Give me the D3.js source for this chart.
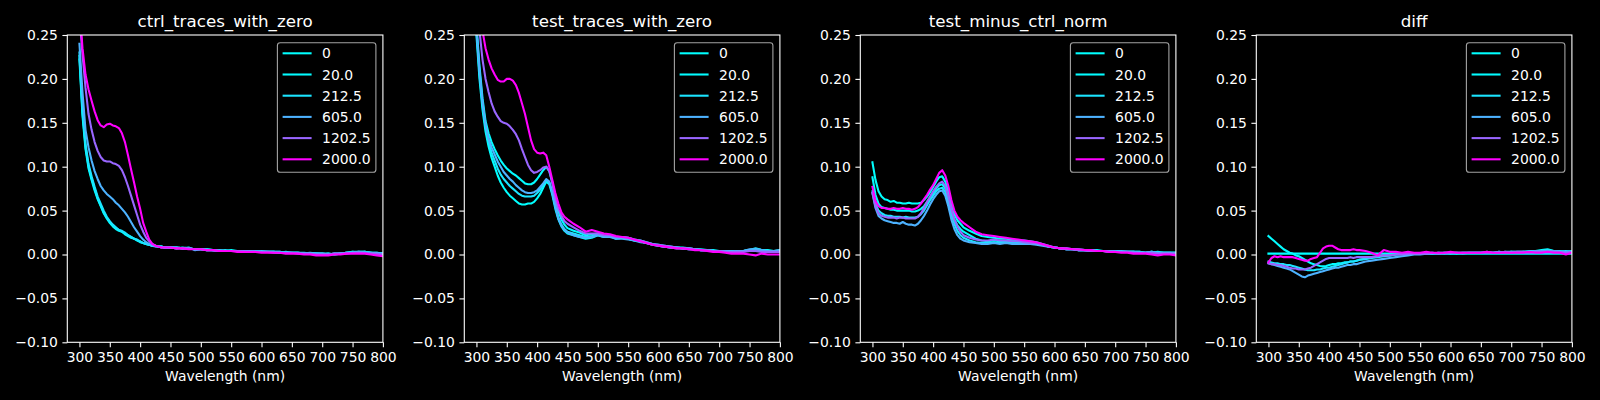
<!DOCTYPE html>
<html><head><meta charset="utf-8">
<script src="https://cdn.jsdelivr.net/npm/d3@7"></script>
<style>html,body{margin:0;padding:0;background:#000;} svg{display:block;}</style>
</head><body>
<svg id="chart" width="1600" height="400"></svg>
<script>
// ---------------- DATA ----------------
const wavelengths = [300,305,310,315,320,325,330,335,340,345,350,355,360,365,370,375,380,385,390,395,400,405,410,415,420,425,430,435,440,445,
  450,460,470,480,490,500,510,520,530,540,550,560,570,580,590,600,610,620,630,640,650,660,670,680,690,700,710,720,730,740,750,760,770,780,790,800];
const seriesLabels = ["0","20.0","212.5","605.0","1202.5","2000.0"];
const seriesValues = [0,20,212.5,605,1202.5,2000];
const panelTitles = ["ctrl_traces_with_zero","test_traces_with_zero","test_minus_ctrl_norm","diff"];
const xTicks = [300,350,400,450,500,550,600,650,700,750,800];
const yTicks = [-0.10,-0.05,0.00,0.05,0.10,0.15,0.20,0.25];
const xLabel = "Wavelength (nm)";

// panel 1: ctrl_traces_with_zero
const ctrl_0 = [0.222,0.158,0.120,0.098,0.085,0.073,0.063,0.055,0.047,0.041,0.036,0.032,0.029,0.027,0.026,0.023,0.021,0.019,0.018,0.016,0.014,0.013,0.012,0.011,0.010,0.010,0.009,0.009,0.008,0.008,
  0.008,0.008,0.007,0.008,0.005,0.006,0.006,0.005,0.004,0.004,0.005,0.004,0.004,0.004,0.003,0.004,0.003,0.003,0.003,0.002,0.002,0.002,0.001,0.001,0.001,0.000,0.001,0.000,0.001,0.002,0.003,0.003,0.003,0.002,0.002,0.001];
const ctrl_20 = [0.226,0.162,0.123,0.100,0.087,0.075,0.064,0.056,0.048,0.042,0.037,0.033,0.030,0.028,0.026,0.024,0.022,0.020,0.018,0.016,0.015,0.013,0.012,0.011,0.010,0.010,0.009,0.009,0.008,0.008,
  0.008,0.007,0.008,0.007,0.006,0.006,0.005,0.005,0.005,0.004,0.004,0.004,0.004,0.003,0.004,0.003,0.003,0.003,0.002,0.003,0.002,0.002,0.002,0.001,0.001,0.001,0.000,0.001,0.001,0.002,0.003,0.002,0.003,0.002,0.001,0.001];
const ctrl_212 = [0.230,0.166,0.126,0.103,0.089,0.077,0.066,0.058,0.050,0.043,0.038,0.034,0.031,0.028,0.027,0.025,0.022,0.020,0.018,0.017,0.015,0.013,0.012,0.011,0.010,0.010,0.009,0.009,0.008,0.008,
  0.008,0.008,0.007,0.007,0.006,0.006,0.006,0.005,0.004,0.005,0.004,0.004,0.004,0.004,0.003,0.003,0.003,0.003,0.003,0.002,0.002,0.002,0.001,0.002,0.001,0.001,0.001,0.000,0.001,0.002,0.002,0.003,0.003,0.002,0.002,0.001];
const ctrl_605 = [0.240,0.185,0.142,0.122,0.107,0.095,0.086,0.078,0.073,0.069,0.066,0.063,0.059,0.056,0.052,0.048,0.043,0.037,0.031,0.026,0.021,0.017,0.014,0.012,0.010,0.009,0.009,0.008,0.008,0.008,
  0.008,0.008,0.007,0.007,0.006,0.006,0.005,0.005,0.005,0.004,0.004,0.004,0.004,0.003,0.003,0.003,0.003,0.003,0.002,0.002,0.002,0.002,0.001,0.001,0.001,0.001,0.000,0.001,0.001,0.002,0.002,0.003,0.002,0.002,0.001,0.001];
const ctrl_1202 = [0.272,0.228,0.190,0.160,0.142,0.128,0.118,0.111,0.107,0.106,0.106,0.104,0.103,0.101,0.096,0.088,0.078,0.067,0.056,0.045,0.034,0.026,0.019,0.015,0.012,0.010,0.009,0.008,0.008,0.008,
  0.008,0.007,0.007,0.007,0.006,0.006,0.005,0.005,0.004,0.004,0.004,0.004,0.003,0.003,0.003,0.003,0.003,0.002,0.002,0.002,0.002,0.001,0.001,0.001,0.000,0.000,0.000,0.001,0.001,0.001,0.002,0.002,0.002,0.001,0.001,0.000];
const ctrl_2000 = [0.285,0.235,0.205,0.188,0.175,0.163,0.153,0.147,0.145,0.148,0.149,0.147,0.146,0.144,0.138,0.128,0.113,0.097,0.082,0.066,0.052,0.036,0.026,0.017,0.012,0.010,0.009,0.008,0.008,0.008,
  0.008,0.007,0.007,0.006,0.006,0.006,0.005,0.005,0.004,0.004,0.004,0.003,0.003,0.003,0.003,0.002,0.002,0.002,0.002,0.001,0.001,0.001,0.000,0.000,-0.001,-0.001,-0.001,0.000,0.000,0.001,0.001,0.001,0.001,0.000,-0.001,-0.002];

// panel 2: test_traces_with_zero
const test_0 = [0.250,0.200,0.165,0.140,0.123,0.110,0.100,0.090,0.082,0.076,0.071,0.067,0.064,0.061,0.058,0.057,0.057,0.058,0.058,0.060,0.064,0.069,0.076,0.083,0.080,0.068,0.052,0.040,0.032,0.027,
  0.024,0.022,0.020,0.018,0.019,0.022,0.020,0.021,0.018,0.019,0.018,0.016,0.015,0.013,0.011,0.010,0.009,0.008,0.008,0.007,0.006,0.006,0.005,0.005,0.004,0.004,0.004,0.004,0.003,0.004,0.005,0.006,0.005,0.004,0.004,0.005];
const test_20 = [0.262,0.215,0.178,0.152,0.138,0.128,0.120,0.113,0.107,0.102,0.098,0.095,0.092,0.090,0.087,0.084,0.081,0.080,0.080,0.082,0.086,0.091,0.096,0.100,0.095,0.082,0.064,0.049,0.040,0.034,
  0.030,0.027,0.025,0.022,0.023,0.024,0.022,0.021,0.020,0.020,0.019,0.017,0.016,0.014,0.012,0.011,0.010,0.009,0.008,0.008,0.007,0.006,0.006,0.005,0.005,0.004,0.004,0.003,0.004,0.004,0.005,0.006,0.005,0.005,0.004,0.004];
const test_212 = [0.255,0.206,0.170,0.145,0.128,0.116,0.107,0.098,0.091,0.086,0.082,0.078,0.075,0.072,0.069,0.067,0.066,0.066,0.066,0.067,0.070,0.074,0.079,0.085,0.082,0.070,0.055,0.042,0.034,0.029,
  0.026,0.024,0.022,0.020,0.021,0.023,0.021,0.021,0.019,0.019,0.018,0.016,0.015,0.013,0.012,0.010,0.009,0.008,0.008,0.007,0.007,0.006,0.005,0.005,0.004,0.004,0.004,0.004,0.003,0.004,0.005,0.007,0.005,0.004,0.004,0.004];
const test_605 = [0.258,0.210,0.174,0.148,0.132,0.122,0.114,0.106,0.100,0.094,0.090,0.086,0.083,0.079,0.076,0.073,0.071,0.070,0.070,0.071,0.073,0.077,0.081,0.086,0.083,0.071,0.055,0.041,0.033,0.028,
  0.025,0.022,0.020,0.019,0.020,0.022,0.020,0.020,0.018,0.018,0.017,0.016,0.014,0.013,0.011,0.010,0.009,0.008,0.007,0.007,0.006,0.006,0.005,0.005,0.004,0.004,0.004,0.003,0.004,0.004,0.006,0.006,0.005,0.004,0.004,0.005];
const test_1202 = [0.300,0.255,0.222,0.200,0.185,0.172,0.163,0.157,0.152,0.150,0.149,0.146,0.142,0.137,0.130,0.120,0.111,0.102,0.096,0.093,0.094,0.096,0.099,0.100,0.095,0.082,0.064,0.052,0.044,0.038,
  0.035,0.031,0.027,0.024,0.024,0.024,0.022,0.022,0.020,0.020,0.019,0.017,0.016,0.014,0.012,0.011,0.010,0.009,0.008,0.007,0.007,0.006,0.005,0.005,0.004,0.004,0.003,0.003,0.003,0.003,0.004,0.004,0.003,0.003,0.003,0.003];
const test_2000 = [0.320,0.290,0.255,0.235,0.222,0.212,0.205,0.199,0.197,0.197,0.200,0.200,0.198,0.193,0.184,0.172,0.160,0.145,0.130,0.120,0.116,0.115,0.116,0.113,0.100,0.085,0.070,0.058,0.048,0.043,
  0.040,0.035,0.031,0.026,0.028,0.026,0.024,0.023,0.021,0.020,0.019,0.017,0.015,0.013,0.011,0.010,0.009,0.008,0.007,0.007,0.006,0.005,0.005,0.004,0.003,0.003,0.002,0.001,0.001,0.001,0.000,-0.001,0.001,0.000,0.000,0.000];

// panel 3: test_minus_ctrl_norm
const norm_0 = [0.105,0.085,0.072,0.066,0.063,0.062,0.060,0.061,0.059,0.059,0.058,0.058,0.059,0.058,0.058,0.058,0.059,0.062,0.066,0.071,0.077,0.083,0.088,0.089,0.083,0.072,0.058,0.046,0.039,0.035,
  0.031,0.027,0.024,0.021,0.020,0.019,0.018,0.018,0.017,0.016,0.016,0.015,0.014,0.012,0.010,0.008,0.007,0.007,0.006,0.006,0.005,0.005,0.005,0.004,0.004,0.004,0.004,0.003,0.003,0.003,0.002,0.002,0.003,0.002,0.002,0.002];
const norm_20 = [0.088,0.068,0.058,0.054,0.053,0.052,0.051,0.051,0.050,0.050,0.050,0.050,0.050,0.049,0.049,0.050,0.052,0.055,0.060,0.065,0.070,0.075,0.079,0.080,0.075,0.064,0.050,0.040,0.033,0.029,
  0.026,0.022,0.018,0.016,0.015,0.016,0.015,0.015,0.015,0.014,0.014,0.013,0.013,0.011,0.009,0.008,0.007,0.006,0.006,0.005,0.005,0.005,0.004,0.004,0.004,0.003,0.003,0.003,0.003,0.003,0.002,0.003,0.002,0.002,0.002,0.002];
const norm_212 = [0.072,0.058,0.050,0.047,0.045,0.044,0.044,0.043,0.043,0.043,0.042,0.043,0.042,0.042,0.042,0.043,0.046,0.050,0.056,0.062,0.067,0.072,0.075,0.076,0.071,0.060,0.046,0.035,0.027,0.022,
  0.019,0.016,0.014,0.013,0.013,0.014,0.013,0.014,0.013,0.013,0.013,0.012,0.012,0.011,0.009,0.008,0.007,0.006,0.006,0.005,0.005,0.004,0.004,0.004,0.004,0.003,0.003,0.003,0.003,0.002,0.002,0.003,0.002,0.002,0.002,0.002];
const norm_605 = [0.070,0.053,0.044,0.041,0.039,0.038,0.037,0.036,0.036,0.035,0.037,0.035,0.034,0.034,0.033,0.035,0.039,0.044,0.050,0.057,0.063,0.068,0.072,0.073,0.067,0.055,0.040,0.029,0.022,0.018,
  0.016,0.014,0.013,0.012,0.012,0.013,0.012,0.013,0.012,0.012,0.012,0.012,0.011,0.010,0.009,0.008,0.007,0.006,0.006,0.005,0.005,0.004,0.004,0.004,0.003,0.003,0.003,0.003,0.003,0.002,0.002,0.003,0.002,0.002,0.002,0.001];
const norm_1202 = [0.070,0.055,0.047,0.044,0.043,0.042,0.042,0.042,0.041,0.042,0.042,0.041,0.041,0.041,0.041,0.043,0.047,0.053,0.060,0.066,0.072,0.077,0.081,0.083,0.078,0.066,0.052,0.040,0.032,0.026,
  0.022,0.019,0.017,0.016,0.016,0.017,0.016,0.016,0.015,0.015,0.014,0.013,0.013,0.011,0.009,0.008,0.007,0.006,0.006,0.005,0.005,0.004,0.004,0.004,0.003,0.003,0.003,0.003,0.002,0.002,0.002,0.002,0.001,0.001,0.001,0.001];
const norm_2000 = [0.077,0.061,0.055,0.053,0.053,0.052,0.052,0.053,0.052,0.052,0.053,0.052,0.052,0.051,0.052,0.054,0.058,0.063,0.068,0.074,0.079,0.086,0.093,0.096,0.090,0.078,0.062,0.050,0.043,0.039,
  0.036,0.031,0.026,0.023,0.022,0.021,0.020,0.019,0.018,0.017,0.016,0.015,0.014,0.012,0.010,0.008,0.007,0.007,0.006,0.006,0.005,0.005,0.004,0.004,0.003,0.003,0.002,0.002,0.001,0.001,0.001,0.000,-0.001,0.000,0.000,-0.001];

// panel 4: diff
const diff_0 = [0.001,0.001,0.001,0.001,0.001,0.001,0.001,0.001,0.001,0.001,0.001,0.001,0.001,0.001,0.001,0.001,0.001,0.001,0.001,0.001,0.001,0.001,0.001,0.001,0.001,0.001,0.001,0.001,0.001,0.001,
  0.001,0.001,0.001,0.001,0.001,0.001,0.001,0.001,0.001,0.001,0.001,0.001,0.001,0.001,0.001,0.001,0.001,0.001,0.001,0.001,0.001,0.001,0.001,0.001,0.001,0.001,0.001,0.001,0.001,0.001,0.001,0.001,0.001,0.001,0.001,0.001];
const diff_20 = [0.021,0.018,0.015,0.012,0.009,0.006,0.004,0.002,0.001,-0.001,-0.002,-0.004,-0.006,-0.008,-0.010,-0.011,-0.012,-0.013,-0.0135,-0.013,-0.012,-0.011,-0.011,-0.010,-0.010,-0.009,-0.009,-0.008,-0.008,-0.007,
  -0.006,-0.005,-0.004,-0.003,-0.002,-0.001,0.000,0.001,0.001,0.001,0.001,0.002,0.001,0.002,0.002,0.002,0.001,0.002,0.002,0.002,0.002,0.002,0.002,0.003,0.002,0.003,0.003,0.003,0.004,0.004,0.005,0.006,0.004,0.004,0.003,0.004];
const diff_212 = [-0.008,-0.009,-0.010,-0.010,-0.011,-0.011,-0.012,-0.012,-0.013,-0.014,-0.015,-0.016,-0.017,-0.018,-0.018,-0.018,-0.017,-0.017,-0.016,-0.015,-0.015,-0.014,-0.013,-0.012,-0.011,-0.010,-0.009,-0.008,-0.008,-0.007,
  -0.006,-0.005,-0.003,-0.002,-0.001,-0.001,0.000,0.000,0.001,0.001,0.001,0.001,0.002,0.001,0.002,0.001,0.002,0.002,0.002,0.002,0.002,0.003,0.002,0.002,0.003,0.003,0.002,0.003,0.003,0.004,0.004,0.005,0.004,0.003,0.004,0.003];
const diff_605 = [-0.010,-0.011,-0.012,-0.013,-0.014,-0.015,-0.016,-0.017,-0.019,-0.021,-0.023,-0.025,-0.026,-0.024,-0.023,-0.022,-0.021,-0.020,-0.019,-0.018,-0.017,-0.016,-0.015,-0.015,-0.014,-0.013,-0.012,-0.012,-0.011,-0.011,
  -0.010,-0.008,-0.007,-0.006,-0.005,-0.004,-0.003,-0.002,-0.001,0.000,0.000,0.001,0.001,0.002,0.001,0.002,0.002,0.001,0.002,0.002,0.002,0.002,0.002,0.003,0.002,0.003,0.003,0.003,0.003,0.004,0.004,0.004,0.004,0.003,0.003,0.003];
const diff_1202 = [-0.010,-0.011,-0.011,-0.012,-0.012,-0.013,-0.014,-0.015,-0.016,-0.016,-0.017,-0.017,-0.017,-0.016,-0.015,-0.013,-0.011,-0.009,-0.007,-0.005,-0.004,-0.004,-0.004,-0.004,-0.004,-0.004,-0.004,-0.003,-0.004,-0.003,
  -0.003,-0.003,-0.003,-0.002,-0.001,-0.001,0.000,0.000,0.001,0.001,0.001,0.001,0.002,0.001,0.002,0.002,0.002,0.002,0.002,0.002,0.002,0.002,0.002,0.002,0.003,0.002,0.003,0.003,0.002,0.003,0.003,0.003,0.003,0.003,0.002,0.003];
const diff_2000 = [-0.009,-0.004,-0.002,-0.003,-0.002,-0.003,-0.003,-0.003,-0.003,-0.004,-0.005,-0.006,-0.007,-0.007,-0.005,-0.004,-0.003,0.002,0.007,0.009,0.010,0.010,0.008,0.006,0.005,0.005,0.005,0.005,0.006,0.005,
  0.005,0.004,0.002,-0.001,0.005,0.003,0.003,0.002,0.003,0.002,0.002,0.003,0.002,0.002,0.002,0.003,0.002,0.002,0.002,0.002,0.002,0.003,0.002,0.002,0.002,0.002,0.002,0.002,0.003,0.002,0.002,0.003,0.002,0.002,0.000,0.002];

const panelSeries = [
  [ctrl_0, ctrl_20, ctrl_212, ctrl_605, ctrl_1202, ctrl_2000],
  [test_0, test_20, test_212, test_605, test_1202, test_2000],
  [norm_0, norm_20, norm_212, norm_605, norm_1202, norm_2000],
  [diff_0, diff_20, diff_212, diff_605, diff_1202, diff_2000]
];

// ---------------- DRAW ----------------
const svg = d3.select("#chart");
svg.append("rect").attr("width",1600).attr("height",400).attr("fill","#000");
const FONT = "'DejaVu Sans', sans-serif";
const panelLefts = [67.3, 464.3, 860.3, 1256.3];
const panelW = 315.6, plotTop = 35, plotBottom = 342.3;
const color = d3.scaleLinear().domain([0, 2000]).range(["#00ffff", "#ff00ff"]).interpolate(d3.interpolateRgb);
const fmt = v => d3.format(".2f")(v).replace("-", "\u2212");

panelSeries.forEach((series, p) => {
  const left = panelLefts[p], right = left + panelW;
  const x = d3.scaleLinear().domain([280, 800]).range([left, right]);
  const y = d3.scaleLinear().domain([-0.10, 0.25]).range([plotBottom, plotTop]);
  const g = svg.append("g");

  const clipId = "clip" + p;
  svg.append("clipPath").attr("id", clipId).append("rect")
    .attr("x", left).attr("y", plotTop).attr("width", panelW).attr("height", plotBottom - plotTop);

  const line = d3.line().x((d, i) => x(wavelengths[i])).y(d => y(d));
  const lg = g.append("g").attr("clip-path", `url(#${clipId})`);
  series.forEach((vals, s) => {
    lg.append("path").datum(vals).attr("d", line)
      .attr("fill", "none").attr("stroke", color(seriesValues[s]))
      .attr("stroke-width", 2.08).attr("stroke-linejoin", "round").attr("stroke-linecap", "square");
  });

  const xAxis = d3.axisBottom(x).tickValues(xTicks).tickSize(4.9).tickPadding(4.5).tickFormat(d3.format("d"));
  const yAxis = d3.axisLeft(y).tickValues(yTicks).tickSize(4.9).tickPadding(4.5).tickFormat(fmt);
  const xa = g.append("g").attr("transform", `translate(0,${plotBottom})`).call(xAxis);
  const ya = g.append("g").attr("transform", `translate(${left},0)`).call(yAxis);
  [xa, ya].forEach(a => {
    a.select(".domain").remove();
    a.selectAll("line").attr("stroke", "#fff").attr("stroke-width", 1.1);
    a.selectAll("text").attr("fill", "#fff").style("font-family", FONT).style("font-size", "13.9px");
  });
  g.append("rect").attr("x", left).attr("y", plotTop).attr("width", panelW).attr("height", plotBottom - plotTop)
    .attr("fill", "none").attr("stroke", "#fff").attr("stroke-width", 1.1);

  g.append("text").attr("x", (left + right) / 2).attr("y", 26.5).attr("text-anchor", "middle")
    .attr("fill", "#fff").style("font-family", FONT).style("font-size", "16.7px").text(panelTitles[p]);
  g.append("text").attr("x", (left + right) / 2).attr("y", 380.5).attr("text-anchor", "middle")
    .attr("fill", "#fff").style("font-family", FONT).style("font-size", "13.9px").text(xLabel);

  const lw = 98.5, lh = 129.6, lx = right - 7 - lw, ly = plotTop + 7.7;
  const leg = g.append("g");
  leg.append("rect").attr("x", lx).attr("y", ly).attr("width", lw).attr("height", lh)
    .attr("rx", 2.8).attr("fill", "#000").attr("fill-opacity", 0.8)
    .attr("stroke", "#a3a3a3").attr("stroke-width", 1.1);
  seriesLabels.forEach((lab, s) => {
    const cy = ly + 10.6 + s * 21.2;
    leg.append("line").attr("x1", lx + 5.2).attr("x2", lx + 34.2).attr("y1", cy).attr("y2", cy)
      .attr("stroke", color(seriesValues[s])).attr("stroke-width", 2.08);
    leg.append("text").attr("x", lx + 44.7).attr("y", cy).attr("dy", "0.36em")
      .attr("fill", "#fff").style("font-family", FONT).style("font-size", "13.9px").text(lab);
  });
});
</script>
</body></html>
